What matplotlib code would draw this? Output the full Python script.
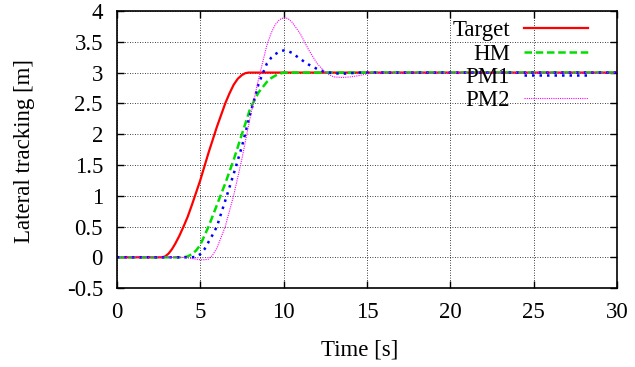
import matplotlib
matplotlib.use("Agg")
import matplotlib.pyplot as plt

plt.rcParams['font.family'] = ['Liberation Serif', 'DejaVu Serif']

# values
t_target = [0, 2.7, 2.9, 3.1, 3.3, 3.5, 3.75, 4.0, 4.25, 4.5, 5.0, 5.5, 6.0, 6.5,
            6.75, 7.0, 7.25, 7.5, 7.7, 7.9, 30]
target = [0, 0, 0.015, 0.06, 0.13, 0.22, 0.35, 0.5, 0.66, 0.85, 1.25, 1.7, 2.12,
          2.5, 2.66, 2.8, 2.9, 2.96, 2.99, 3.0, 3.0]

t_hm = [0, 4.0, 4.25, 4.5, 4.75, 5.0, 5.5, 6.0, 6.5, 7.0, 7.5, 8.0, 8.5, 9.0,
        9.25, 9.5, 9.75, 10.0, 30]
hm = [0, 0, 0.015, 0.05, 0.11, 0.2, 0.5, 0.85, 1.2, 1.58, 2.0, 2.42, 2.68, 2.85,
      2.91, 2.95, 2.98, 3.0, 3.0]

t_pm = [0, 4.0, 4.5, 4.75, 5.0, 5.25, 5.5, 5.75, 6.0, 6.5, 7.0, 7.5, 8.0, 8.5,
        9.0, 9.25, 9.5, 9.75, 10.0, 10.25, 10.5, 11.0, 11.5, 12.0, 12.5, 13.0,
        13.5, 14.0, 14.5, 15.0, 16.0, 30]
pm1 = [0, 0, 0, 0.01, 0.05, 0.13, 0.25, 0.37, 0.5, 0.92, 1.35, 1.8, 2.33, 2.82,
       3.15, 3.24, 3.3, 3.34, 3.36, 3.35, 3.32, 3.22, 3.13, 3.06, 3.01, 2.99,
       2.98, 2.99, 3.0, 3.0, 3.0, 3.0]
pm2 = [0, 0, -0.02, -0.03, -0.04, -0.04, -0.03, 0.04, 0.15, 0.5, 1.0, 1.6, 2.28,
       2.9, 3.45, 3.64, 3.78, 3.86, 3.89, 3.88, 3.82, 3.63, 3.37, 3.15, 3.0,
       2.93, 2.92, 2.93, 2.95, 2.98, 3.0, 3.0]

fig = plt.figure(figsize=(6.35, 3.67), dpi=100)
ax = fig.add_axes([0.184, 0.215, 0.788, 0.755])

ax.plot(t_target, target, color="red", lw=1.6, label="Target")
ax.plot(t_hm, hm, color="#00e000", lw=1.8, ls=(0, (3, 1.5)), label="HM")
ax.plot(t_pm, pm1, color="blue", lw=1.8, ls=(0, (1, 2)), label="PM1")
ax.plot(t_pm, pm2, color="magenta", lw=0.8, ls=(0, (1, 1)), label="PM2")

ax.set_xlim(0, 30)
ax.set_ylim(-0.5, 4)
ax.set_xticks(range(0, 31, 5))
ax.set_yticks([-0.5, 0, 0.5, 1, 1.5, 2, 2.5, 3, 3.5, 4])
ax.set_yticklabels(["-0.5", "0", "0.5", "1", "1.5", "2", "2.5", "3", "3.5", "4"])
ax.grid(True, color="black", ls=(0, (1, 2)), lw=0.6)
ax.tick_params(direction="in", top=True, right=True, length=5, width=1,
               labelsize=16.5, pad=10)
for s in ax.spines.values():
    s.set_linewidth(1.2)

ax.set_xlabel("Time [s]", fontsize=16.5, va="center")
ax.set_ylabel("Lateral tracking [m]", fontsize=16.5, va="center")
ax.xaxis.set_label_coords(0.486, -0.223)
ax.yaxis.set_label_coords(-0.184, 0.493)

ax.legend(loc="upper right", frameon=False, markerfirst=False, fontsize=16.5,
          handlelength=2.8, handletextpad=0.6, labelspacing=0.1,
          borderaxespad=0.0, bbox_to_anchor=(0.96, 1.0))

fig.savefig("out.png", dpi=100)
